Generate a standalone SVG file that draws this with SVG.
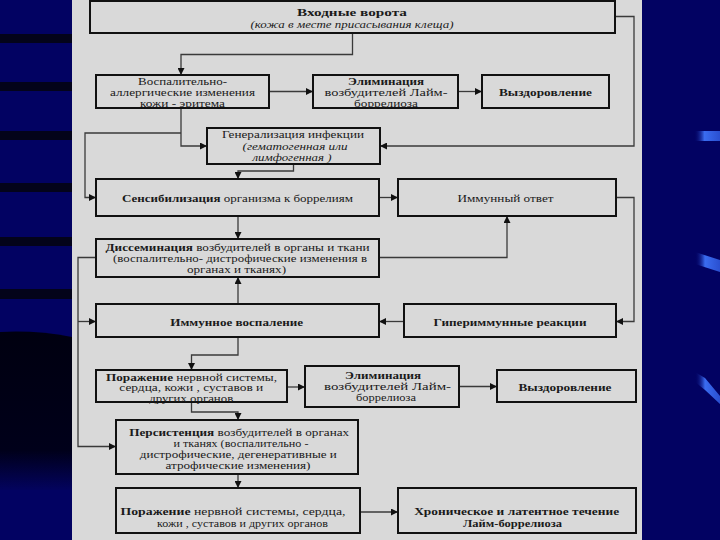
<svg xmlns="http://www.w3.org/2000/svg" width="720" height="540" viewBox="0 0 720 540">
<defs>
<style>
.box{fill:#d9d9d9;stroke:#111;stroke-width:2}
.t{font-family:"Liberation Serif","DejaVu Serif",serif;font-size:11px;fill:#1a1a1a;text-anchor:middle}
.b{font-weight:bold}
.i{font-style:italic}
.c{fill:none;stroke:#3a3a3a;stroke-width:1.3}
</style>
<marker id="ah" viewBox="0 0 10 10" refX="10" refY="5" markerWidth="7" markerHeight="7" markerUnits="userSpaceOnUse" orient="auto">
<path d="M0,0 L10,5 L0,10 z" fill="#111"/>
</marker>
<linearGradient id="blk" x1="0" y1="0" x2="0" y2="1">
<stop offset="0" stop-color="#000010"/>
<stop offset="0.75" stop-color="#00001a"/>
<stop offset="1" stop-color="#03035e"/>
</linearGradient>
<linearGradient id="glint" x1="0" y1="0" x2="1" y2="0">
<stop offset="0" stop-color="#000066" stop-opacity="0"/>
<stop offset="0.4" stop-color="#3a6cf0"/>
<stop offset="1" stop-color="#2a4fd0"/>
</linearGradient>
</defs>
<!-- background -->
<rect x="0" y="0" width="720" height="540" fill="#020262"/>
<g id="left-stripes" fill="#03031a">
<rect x="0" y="34" width="72" height="9"/>
<rect x="0" y="82" width="72" height="9"/>
<rect x="0" y="131" width="72" height="9"/>
<rect x="0" y="183" width="72" height="9"/>
<rect x="0" y="237" width="72" height="9"/>
<rect x="0" y="289" width="72" height="10"/>
<path d="M0,332 Q36,330 72,337 V490 H0 z" fill="url(#blk)"/>
</g>
<g id="right-glints" fill="url(#glint)">
<rect x="694" y="131" width="26" height="10"/>
<polygon points="695,252 720,260 720,272 695,264"/>
<polygon points="695,372 705,378 720,396 720,404 705,390 695,382"/>
</g>
<rect x="72" y="0" width="570" height="540" fill="#d9d9d9"/>

<g id="connectors">
<path class="c" d="M352.5,34 V54.5 H181 V75" marker-end="url(#ah)"/>
<path class="c" d="M269,91.5 H313" marker-end="url(#ah)"/>
<path class="c" d="M458,91.5 H482" marker-end="url(#ah)"/>
<path class="c" d="M181,108 V146 H207" marker-end="url(#ah)"/>
<path class="c" d="M181,133 H85 V197.5 H96" marker-end="url(#ah)"/>
<path class="c" d="M615,16.5 H634 V146 H380" marker-end="url(#ah)"/>
<path class="c" d="M293.5,164 V171 H238 V179" marker-end="url(#ah)"/>
<path class="c" d="M379,197.5 H398" marker-end="url(#ah)"/>
<path class="c" d="M238,216 V239" marker-end="url(#ah)"/>
<path class="c" d="M616,197.5 H634 V321.5 H616" marker-end="url(#ah)"/>
<path class="c" d="M379,257.5 H507 V216" marker-end="url(#ah)"/>
<path class="c" d="M96,257.5 H78 V446.5 H116" marker-end="url(#ah)"/>
<path class="c" d="M78,321.5 H96" marker-end="url(#ah)"/>
<path class="c" d="M238,304 V277" marker-end="url(#ah)"/>
<path class="c" d="M404,321.5 H379" marker-end="url(#ah)"/>
<path class="c" d="M238,337 V355 H191.5 V370" marker-end="url(#ah)"/>
<path class="c" d="M287,387 H305" marker-end="url(#ah)"/>
<path class="c" d="M459,386.5 H497" marker-end="url(#ah)"/>
<path class="c" d="M191.5,402 V412 H238 V420" marker-end="url(#ah)"/>
<path class="c" d="M238,474 V488" marker-end="url(#ah)"/>
<path class="c" d="M360,512 H398" marker-end="url(#ah)"/>
</g>

<g id="n-vhod">
<rect class="box" x="90" y="1" width="525" height="32"/>
<text class="t b" x="352" y="15.5" font-size="12.5" textLength="110" lengthAdjust="spacingAndGlyphs">Входные ворота</text>
<text class="t i" x="352" y="27.5" font-size="10.5" textLength="203" lengthAdjust="spacingAndGlyphs">(кожа в месте присасывания клеща)</text>
</g>
<g id="n-eritema">
<rect class="box" x="96" y="75" width="173" height="33"/>
<text class="t" x="182.5" y="84.8" textLength="89" lengthAdjust="spacingAndGlyphs">Воспалительно-</text>
<text class="t" x="182.5" y="96.3" textLength="145" lengthAdjust="spacingAndGlyphs">аллергические изменения</text>
<text class="t" x="182.5" y="107" textLength="85" lengthAdjust="spacingAndGlyphs">кожи - эритема</text>
</g>
<g id="n-elim1">
<rect class="box" x="313" y="75" width="145" height="33"/>
<text class="t b" x="386" y="84.8" textLength="76" lengthAdjust="spacingAndGlyphs">Элиминация</text>
<text class="t" x="386" y="96.3" textLength="123" lengthAdjust="spacingAndGlyphs">возбудителей Лайм-</text>
<text class="t" x="386" y="107" textLength="64" lengthAdjust="spacingAndGlyphs">боррелиоза</text>
</g>
<g id="n-vyzd1">
<rect class="box" x="482" y="75" width="127" height="33"/>
<text class="t b" x="545.5" y="95.5" textLength="93" lengthAdjust="spacingAndGlyphs">Выздоровление</text>
</g>
<g id="n-gener">
<rect class="box" x="207" y="128" width="173" height="36"/>
<text class="t" x="293" y="138.3" textLength="142" lengthAdjust="spacingAndGlyphs">Генерализация инфекции</text>
<text class="t i" x="295" y="150" font-size="10.5" textLength="105" lengthAdjust="spacingAndGlyphs">(гематогенная или</text>
<text class="t i" x="292" y="161" font-size="10.5" textLength="79" lengthAdjust="spacingAndGlyphs">лимфогенная )</text>
</g>
<g id="n-sensib">
<rect class="box" x="96" y="179" width="283" height="37"/>
<text class="t" x="237.5" y="201.5" textLength="231" lengthAdjust="spacingAndGlyphs"><tspan class="b">Сенсибилизация</tspan> организма к боррелиям</text>
</g>
<g id="n-immun-otvet">
<rect class="box" x="398" y="179" width="218" height="37"/>
<text class="t" x="505.5" y="201.5" textLength="96" lengthAdjust="spacingAndGlyphs">Иммунный ответ</text>
</g>
<g id="n-dissem">
<rect class="box" x="96" y="239" width="283" height="38"/>
<text class="t" x="237.5" y="250.5" textLength="264" lengthAdjust="spacingAndGlyphs"><tspan class="b">Диссеминация</tspan> возбудителей в органы и ткани</text>
<text class="t" x="240" y="262" textLength="254" lengthAdjust="spacingAndGlyphs">(воспалительно- дистрофические изменения в</text>
<text class="t" x="236.5" y="273" textLength="99" lengthAdjust="spacingAndGlyphs">органах и тканях)</text>
</g>
<g id="n-immun-vospal">
<rect class="box" x="96" y="304" width="283" height="33"/>
<text class="t b" x="236.7" y="325.5" textLength="133" lengthAdjust="spacingAndGlyphs">Иммунное воспаление</text>
</g>
<g id="n-giper">
<rect class="box" x="404" y="304" width="212" height="33"/>
<text class="t b" x="510" y="325.5" textLength="153" lengthAdjust="spacingAndGlyphs">Гипериммунные реакции</text>
</g>
<g id="n-porazh1">
<rect class="box" x="96" y="370" width="191" height="32"/>
<text class="t" x="191.5" y="380.5" textLength="171" lengthAdjust="spacingAndGlyphs"><tspan class="b">Поражение</tspan> нервной системы,</text>
<text class="t" x="191.3" y="391" textLength="144" lengthAdjust="spacingAndGlyphs">сердца, кожи , суставов и</text>
<text class="t" x="191.2" y="401.5" textLength="84" lengthAdjust="spacingAndGlyphs">других органов</text>
</g>
<g id="n-elim2">
<rect class="box" x="305" y="366" width="154" height="41"/>
<text class="t b" x="383" y="378.8" textLength="76" lengthAdjust="spacingAndGlyphs">Элиминация</text>
<text class="t" x="387.5" y="389.8" textLength="127" lengthAdjust="spacingAndGlyphs">возбудителей Лайм-</text>
<text class="t" x="386" y="401" textLength="60" lengthAdjust="spacingAndGlyphs">боррелиоза</text>
</g>
<g id="n-vyzd2">
<rect class="box" x="497" y="370" width="139" height="32"/>
<text class="t b" x="565" y="390.5" textLength="93" lengthAdjust="spacingAndGlyphs">Выздоровление</text>
</g>
<g id="n-persist">
<rect class="box" x="116" y="420" width="242" height="54"/>
<text class="t" x="239.2" y="435.8" textLength="220" lengthAdjust="spacingAndGlyphs"><tspan class="b">Персистенция</tspan> возбудителей в органах</text>
<text class="t" x="241" y="447" textLength="135" lengthAdjust="spacingAndGlyphs">и тканях (воспалительно -</text>
<text class="t" x="238.3" y="458" textLength="197" lengthAdjust="spacingAndGlyphs">дистрофические, дегенеративные и</text>
<text class="t" x="238" y="468.7" textLength="145" lengthAdjust="spacingAndGlyphs">атрофические изменения)</text>
</g>
<g id="n-porazh2">
<rect class="box" x="116" y="488" width="244" height="45"/>
<text class="t" x="233" y="514.5" textLength="225" lengthAdjust="spacingAndGlyphs"><tspan class="b">Поражение</tspan> нервной системы, сердца,</text>
<text class="t" x="242.5" y="526.5" textLength="171" lengthAdjust="spacingAndGlyphs">кожи , суставов и других органов</text>
</g>
<g id="n-chron">
<rect class="box" x="398" y="488" width="238" height="45"/>
<text class="t b" x="516.7" y="514.5" textLength="205" lengthAdjust="spacingAndGlyphs">Хроническое и латентное течение</text>
<text class="t b" x="512.5" y="526.5" textLength="99" lengthAdjust="spacingAndGlyphs">Лайм-боррелиоза</text>
</g>
</svg>
